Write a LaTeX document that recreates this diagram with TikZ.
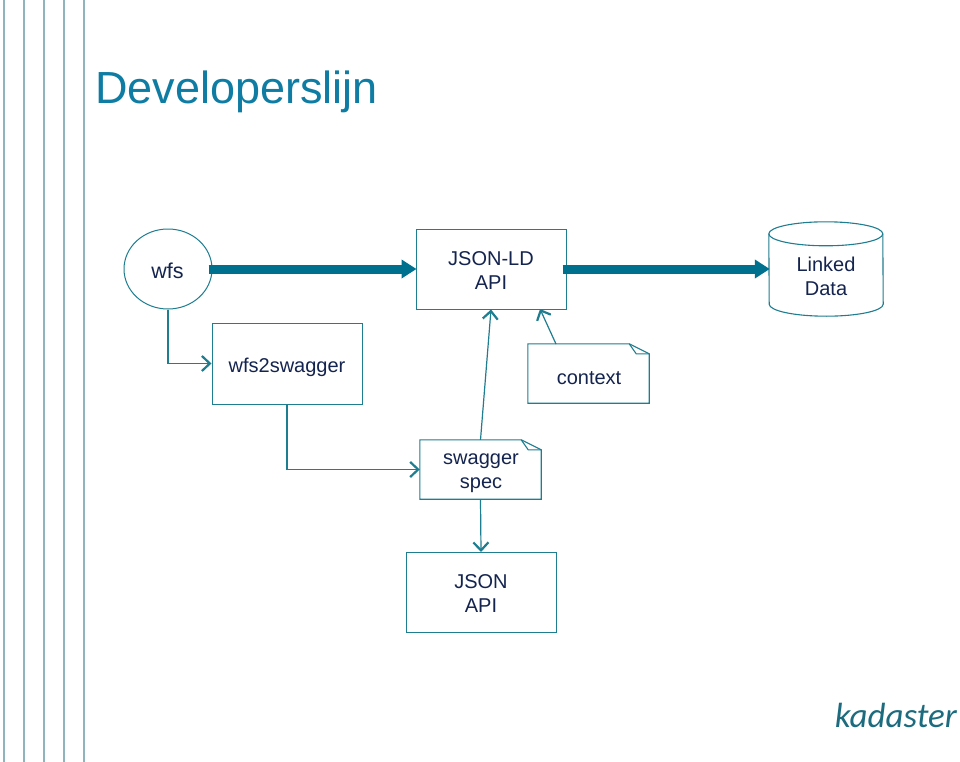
\documentclass[tikz,border=0pt]{standalone}
\usepackage{fontspec}
\setmainfont{Liberation Sans}
\newfontfamily\logofont{Carlito}
\usetikzlibrary{arrows.meta,calc,shapes.geometric}
\definecolor{stripe}{HTML}{8FB4BE}
\definecolor{titleblue}{HTML}{0F7CA3}
\definecolor{linkteal}{HTML}{1F7D90}
\definecolor{flowteal}{HTML}{00708F}
\definecolor{navytext}{HTML}{14244F}
\definecolor{logoteal}{HTML}{1C6B7E}
\tikzset{
  x=1pt,y=-1pt,
  stripeline/.style={stripe,line width=1.8pt},
  label/.style={text=navytext,font=\fontsize{20}{24}\selectfont,align=center,inner sep=0pt},
  boxed/.style={label,draw=linkteal,line width=1pt,minimum width=150pt,minimum height=80pt},
  plain/.style={label,minimum width=#1},
  notecorner/.style={draw=linkteal,line width=1.1pt,line join=miter},
  cylinderline/.style={draw=linkteal,line width=1.1pt},
  flow/.style={flowteal,line width=9pt,-{Triangle[length=15pt,width=18pt]},shorten <=-4pt,shorten >=-1pt},
  link/.style={linkteal,line width=1.2pt,-{Straight Barb[length=8pt,width=15pt,line width=2.2pt]}},
}
\begin{document}
\begin{tikzpicture}
  \useasboundingbox (0,0) rectangle (960,762);
  \fill[white] (0,0) rectangle (960,762);

  % vertical stripes along the left edge
  \foreach \xpos in {4,24,44,64,84}
    \draw[stripeline] (\xpos,0) -- (\xpos,762);

  \node[anchor=base west,inner sep=0pt,text=titleblue,font=\fontsize{45}{50}\selectfont] (title) at (95,104) {Developerslijn};

  % boxes
  \node[draw=linkteal,line width=1pt,ellipse,minimum width=88pt,minimum height=80pt,inner sep=0pt] (wfs) at (168,269) {};
  \node[label,font=\fontsize{21.5}{24}\selectfont] (wfstext) at (167.5,271) {wfs};
  \node[boxed] (jsonld) at (491,269) {};
  \node[label] (jsonldtext) at (491,270.5) {JSON-LD\\[0.5pt]API};
  \node[boxed,minimum height=81pt] (converter) at (287,363.5) {};
  \node[label] (convertertext) at (287,367) {wfs2swagger};
  \node[boxed] (jsonapi) at (481,592.5) {};
  \node[label] (jsonapitext) at (481,593.5) {JSON\\[0.5pt]API};

  % database cylinder
  \node[label,minimum width=114pt,minimum height=94pt] (store) at (826,269) {};
  \node[label] (storetext) at (826,276.5) {Linked\\[0.5pt]Data};
  \draw[cylinderline]
    ($(store.north west)+(0,12)$) arc[start angle=180,end angle=0,x radius=57pt,y radius=12pt]
    -- ($(store.south east)+(0,-12)$) arc[start angle=0,end angle=-180,x radius=57pt,y radius=12pt]
    -- cycle;
  \draw[cylinderline]
    ($(store.north west)+(0,12)$) arc[start angle=180,end angle=360,x radius=57pt,y radius=12pt];

  % documents with a folded corner
  \node[plain=121pt,minimum height=59pt] (ctx) at (588.5,373.5) {};
  \node[label] (ctxtext) at (589,378) {context};
  \draw[notecorner] (ctx.north west) -- ($(ctx.north east)+(-20,0)$) -- ($(ctx.north east)+(0,10)$)
    -- (ctx.south east) -- (ctx.south west) -- cycle;
  \draw[notecorner] ($(ctx.north east)+(-20,0)$) -- ($(ctx.north east)+(-13,10)$) -- ($(ctx.north east)+(0,10)$);

  \node[plain=121pt,minimum height=59pt] (spec) at (480.5,469.5) {};
  \node[label] (spectext) at (481,473) {swagger\\[0.5pt]spec};
  \draw[notecorner] (spec.north west) -- ($(spec.north east)+(-20,0)$) -- ($(spec.north east)+(0,10)$)
    -- (spec.south east) -- (spec.south west) -- cycle;
  \draw[notecorner] ($(spec.north east)+(-20,0)$) -- ($(spec.north east)+(-13,10)$) -- ($(spec.north east)+(0,10)$);

  % connectors
  \coordinate (ctxfoot) at (556,344);
  \coordinate (apifoot) at (540,309);
  \draw[flow] (wfs.east) -- (jsonld.west);
  \draw[flow] (jsonld.east) -- (store.west);
  \draw[link] (wfs.south) |- (converter.west);
  \draw[link] (converter.south) |- (spec.west);
  \draw[link] (spec.north) -- (jsonld.south);
  \draw[link] (ctxfoot) -- (apifoot);
  \draw[link] (spec.south) -- (jsonapi.north);

  \node[anchor=base east,inner sep=0pt,text=logoteal,font=\logofont\itshape\fontsize{35}{40}\selectfont] (logo) at (957,727) {kadaster};
\end{tikzpicture}
\end{document}
